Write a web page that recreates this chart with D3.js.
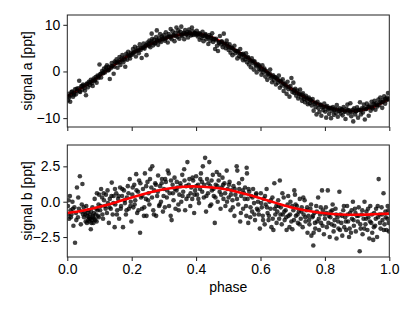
<!DOCTYPE html>
<html><head><meta charset="utf-8">
<script src="https://cdn.jsdelivr.net/npm/d3@7"></script>
<style>
body{margin:0;background:#fff;}
text{font-family:"Liberation Sans",Arial,sans-serif;}
</style></head>
<body><svg id="c" width="415" height="311"></svg>
<script>
// ---- data ----
const xTicks = [0, 0.2, 0.4, 0.6, 0.8, 1.0];
const yTicksA = [-10, 0, 10];
const yTicksB = [-2.5, 0, 2.5];
const labelA = "signal a [ppt]";
const labelB = "signal b [ppt]";
const labelX = "phase";

const modelPhase = [0,0.05,0.1,0.15,0.2,0.25,0.3,0.35,0.4,0.45,0.5,0.55,0.6,0.65,0.7,0.75,0.8,0.85,0.9,0.95,1.0];
const modelA = [-5.3,-3.3,-1.0,1.6,3.8,5.6,7.0,7.9,8.1,7.3,5.5,3.4,1.0,-1.6,-3.9,-6.0,-7.5,-8.3,-8.4,-7.6,-5.8];
const modelB = [-0.80,-0.62,-0.36,-0.05,0.30,0.62,0.88,1.04,1.08,1.00,0.84,0.56,0.24,-0.10,-0.42,-0.66,-0.82,-0.90,-0.92,-0.89,-0.84];

const pointsA = [
[0.002,-6.2],[0.004,-4.8],[0.006,-5.6],[0.009,-6.5],[0.012,-5.0],[0.015,-4.3],[0.018,-5.4],[0.021,-4.6],[0.024,-3.8],[0.027,-4.9],[0.030,-4.2],[0.034,-3.6],[0.037,-2.0],[0.040,-4.4],[0.043,-3.2],[0.046,-3.9],[0.049,-2.8],
[0.052,-3.0],[0.055,-4.1],[0.058,-5.1],[0.061,-2.6],[0.064,-3.4],[0.067,-2.2],[0.070,-2.9],[0.073,-1.8],[0.076,-2.5],[0.079,-3.1],[0.082,-1.5],[0.085,-2.0],[0.088,-1.2],[0.091,-2.4],[0.094,-0.9],[0.097,-1.4],
[0.100,1.5],[0.102,-0.6],[0.105,-1.3],[0.108,0.1],[0.111,-0.4],[0.114,0.6],[0.117,-0.2],[0.120,0.9],[0.123,1.3],[0.126,0.2],[0.129,1.0],[0.132,-1.6],[0.135,0.7],[0.138,1.8],[0.141,1.2],[0.144,-0.5],[0.147,2.1],
[0.150,1.9],[0.153,2.6],[0.156,0.8],[0.159,2.2],[0.162,3.1],[0.165,1.4],[0.168,2.7],[0.171,3.5],[0.174,2.0],[0.177,3.0],[0.180,1.0],[0.183,3.8],[0.186,2.5],[0.189,4.2],[0.192,3.3],[0.195,2.8],[0.198,4.0],
[0.201,3.6],[0.204,4.8],[0.207,4.1],[0.210,5.3],[0.213,3.2],[0.216,4.5],[0.219,5.0],[0.222,3.9],[0.225,5.8],[0.228,4.6],[0.231,2.9],[0.234,5.2],[0.237,6.0],[0.240,4.9],[0.243,5.5],[0.246,3.5],[0.249,6.2],
[0.252,5.9],[0.255,6.6],[0.258,5.2],[0.261,6.4],[0.262,8.1],[0.264,7.0],[0.267,5.6],[0.270,6.8],[0.273,6.1],[0.276,7.4],[0.278,8.8],[0.279,6.5],[0.282,5.7],[0.285,7.1],[0.288,8.0],[0.291,6.3],[0.294,7.5],[0.297,6.9],
[0.300,7.8],[0.303,6.6],[0.306,8.4],[0.309,7.2],[0.312,6.2],[0.315,8.0],[0.318,7.5],[0.321,9.1],[0.324,6.9],[0.327,8.6],[0.330,7.7],[0.333,6.5],[0.336,8.3],[0.339,9.4],[0.342,7.4],[0.345,8.8],[0.348,7.0],
[0.351,8.5],[0.354,9.6],[0.357,7.6],[0.360,8.1],[0.363,6.9],[0.366,8.9],[0.369,7.9],[0.372,8.4],[0.375,7.3],[0.378,9.0],[0.381,8.2],[0.384,7.7],[0.387,9.4],[0.390,8.6],[0.393,7.8],[0.396,8.3],[0.399,8.0],
[0.402,8.7],[0.405,7.5],[0.408,8.2],[0.411,6.8],[0.414,7.9],[0.417,7.2],[0.420,8.5],[0.423,6.5],[0.426,7.6],[0.429,8.0],[0.432,6.9],[0.435,7.4],[0.438,5.9],[0.441,7.8],[0.444,6.6],[0.447,7.1],[0.450,8.2],
[0.453,6.3],[0.456,7.0],[0.459,4.8],[0.462,6.7],[0.465,5.5],[0.468,4.4],[0.471,6.1],[0.474,7.6],[0.477,5.8],[0.480,6.4],[0.483,5.2],[0.486,8.1],[0.489,6.0],[0.492,5.0],[0.495,6.6],[0.498,5.4],
[0.501,4.6],[0.504,5.8],[0.507,4.0],[0.510,5.1],[0.513,3.5],[0.516,4.7],[0.519,5.5],[0.522,3.9],[0.525,4.4],[0.528,2.8],[0.531,4.1],[0.534,3.3],[0.537,4.8],[0.540,3.0],[0.543,3.7],[0.546,2.4],[0.549,3.4],
[0.552,2.6],[0.555,3.9],[0.558,2.0],[0.561,3.1],[0.564,1.5],[0.567,2.4],[0.570,0.9],[0.573,2.8],[0.576,1.8],[0.579,0.4],[0.582,2.1],[0.585,1.2],[0.588,-0.2],[0.591,1.6],[0.594,0.6],[0.597,1.0],
[0.600,0.2],[0.603,-0.7],[0.606,1.3],[0.609,-0.2],[0.612,0.6],[0.615,-1.1],[0.618,0.1],[0.621,-1.8],[0.624,-0.5],[0.627,-0.9],[0.630,0.4],[0.633,-1.4],[0.636,-2.3],[0.639,-0.8],[0.642,-1.9],[0.645,-1.2],[0.648,-2.8],
[0.651,-1.5],[0.654,-2.4],[0.657,-0.9],[0.660,-3.5],[0.663,-2.0],[0.666,-3.0],[0.669,-1.7],[0.672,-4.2],[0.675,-2.6],[0.678,-3.4],[0.681,-4.8],[0.684,-2.2],[0.687,-3.8],[0.690,-5.4],[0.693,-3.1],[0.696,-1.4],[0.699,-4.4],
[0.702,-2.4],[0.705,-4.6],[0.708,-3.7],[0.711,-5.2],[0.714,-4.1],[0.717,-5.8],[0.720,-4.9],[0.723,-3.9],[0.726,-5.5],[0.729,-6.3],[0.732,-4.7],[0.735,-5.9],[0.738,-6.6],[0.741,-5.2],[0.744,-6.1],[0.747,-7.0],
[0.750,-5.6],[0.753,-6.8],[0.756,-6.2],[0.759,-7.3],[0.762,-5.9],[0.765,-8.4],[0.768,-6.9],[0.771,-7.6],[0.774,-9.2],[0.777,-6.5],[0.780,-7.9],[0.783,-8.7],[0.786,-7.1],[0.789,-9.5],[0.792,-7.7],[0.795,-8.3],[0.798,-6.9],
[0.801,-8.6],[0.804,-9.9],[0.807,-7.4],[0.810,-8.2],[0.813,-9.1],[0.816,-7.8],[0.819,-10.0],[0.822,-8.5],[0.825,-7.6],[0.828,-9.3],[0.831,-8.0],[0.834,-8.9],[0.837,-7.2],[0.840,-9.7],[0.843,-8.4],[0.846,-7.9],[0.849,-9.0],
[0.852,-8.1],[0.855,-9.4],[0.858,-7.6],[0.861,-8.6],[0.864,-10.2],[0.867,-8.0],[0.870,-7.1],[0.873,-9.0],[0.876,-8.3],[0.879,-6.8],[0.882,-9.6],[0.885,-8.7],[0.888,-10.7],[0.891,-7.9],[0.894,-9.2],[0.897,-8.5],
[0.900,-7.7],[0.903,-9.9],[0.906,-8.3],[0.909,-6.6],[0.912,-9.2],[0.915,-7.9],[0.918,-8.8],[0.921,-7.1],[0.924,-10.3],[0.927,-8.1],[0.930,-6.9],[0.933,-7.6],[0.936,-9.5],[0.939,-7.3],[0.942,-8.4],[0.945,-6.5],[0.948,-7.9],
[0.951,-7.0],[0.954,-6.3],[0.957,-8.2],[0.960,-6.8],[0.963,-7.5],[0.966,-6.0],[0.969,-7.2],[0.972,-5.6],[0.975,-6.6],[0.978,-7.8],[0.981,-6.1],[0.984,-5.3],[0.987,-6.9],[0.990,-6.2],[0.993,-5.6],[0.996,-4.6],[0.999,-6.0],
[0.005,-5.3],[0.013,-4.4],[0.021,-5.0],[0.029,-3.7],[0.038,-4.3],[0.046,-3.1],[0.054,-3.5],[0.062,-2.7],[0.071,-2.3],[0.079,-2.0],[0.087,-1.8],[0.096,-1.1],[0.104,-0.5],[0.112,-0.2],[0.121,0.4],[0.129,0.3],[0.137,1.1],[0.146,1.0],[0.154,1.8],[0.162,2.0],[0.171,2.4],[0.179,2.6],[0.187,3.4],[0.196,3.5],[0.204,3.9],[0.212,4.3],[0.221,4.5],[0.229,5.0],[0.237,5.1],[0.246,5.6],
[0.254,5.5],[0.262,6.1],[0.271,6.0],[0.279,6.7],[0.287,6.6],[0.296,7.1],[0.304,7.0],[0.312,7.5],[0.321,7.3],[0.329,7.8],[0.337,7.6],[0.346,8.1],[0.354,7.8],[0.362,8.3],[0.371,8.0],[0.379,8.4],[0.387,7.9],[0.396,8.2],[0.404,7.9],[0.412,8.1],[0.421,7.6],[0.429,7.8],[0.437,7.3],[0.446,7.5],[0.454,6.9],[0.462,7.0],[0.471,6.3],[0.479,6.4],[0.487,5.8],[0.496,5.9],
[0.504,5.2],[0.512,5.0],[0.521,4.5],[0.529,4.4],[0.537,3.8],[0.546,3.8],[0.554,3.1],[0.562,2.9],[0.571,2.2],[0.579,2.2],[0.587,1.4],[0.596,1.3],[0.604,0.5],[0.612,0.3],[0.621,-0.3],[0.629,-0.5],[0.637,-1.1],[0.646,-1.3],[0.654,-1.8],[0.662,-2.2],[0.671,-2.6],[0.679,-3.0],[0.687,-3.3],[0.696,-3.8],[0.704,-4.0],[0.712,-4.5],[0.721,-4.8],[0.729,-5.0],[0.737,-5.5],[0.746,-5.8],
[0.754,-6.0],[0.762,-6.5],[0.771,-6.7],[0.779,-7.1],[0.787,-7.2],[0.796,-7.6],[0.804,-7.6],[0.812,-7.9],[0.821,-7.9],[0.829,-8.3],[0.837,-8.1],[0.846,-8.5],[0.854,-8.2],[0.862,-8.6],[0.871,-8.3],[0.879,-8.6],[0.887,-8.2],[0.896,-8.5],[0.904,-8.2],[0.912,-8.3],[0.921,-7.9],[0.929,-8.0],[0.937,-7.6],[0.946,-7.7],[0.954,-7.2],[0.962,-7.2],[0.971,-6.6],[0.979,-6.6],[0.987,-5.9],[0.996,-5.9]
];

const pointsB = [
[0.002,-0.3],[0.004,0.1],[0.006,-1.2],[0.008,0.4],[0.010,-0.6],[0.013,-0.9],[0.016,0.0],[0.019,-1.7],[0.022,-0.4],[0.024,-2.9],[0.027,-0.8],[0.030,1.0],[0.033,-1.1],[0.036,-0.5],[0.039,1.8],[0.042,-1.6],[0.045,-0.2],[0.047,1.25],[0.049,-0.9],
[0.052,-1.1],[0.054,-0.7],[0.057,-1.4],[0.059,-0.3],[0.062,-1.0],[0.064,-1.3],[0.066,-0.6],[0.069,-1.2],[0.071,-0.9],[0.073,-1.95],[0.075,-1.5],[0.078,-0.4],[0.080,-1.1],[0.083,-0.8],[0.085,0.2],[0.087,-1.3],[0.090,-0.5],[0.092,0.6],[0.095,-1.0],[0.097,-0.2],[0.099,0.5],
[0.102,-0.6],[0.105,0.9],[0.108,0.3],[0.111,-1.2],[0.114,0.1],[0.117,-0.3],[0.120,0.5],[0.123,-0.8],[0.126,-0.1],[0.129,-1.5],[0.132,0.2],[0.135,-0.5],[0.138,1.35],[0.141,-0.9],[0.144,0.4],[0.147,-1.8],[0.149,-0.2],
[0.152,0.6],[0.155,-0.6],[0.158,0.2],[0.161,-1.2],[0.164,1.0],[0.167,-0.3],[0.170,0.4],[0.173,-1.8],[0.176,0.8],[0.179,-0.1],[0.182,-0.9],[0.185,0.3],[0.188,1.1],[0.191,-0.5],[0.194,1.6],[0.197,0.0],[0.199,-1.4],
[0.202,0.5],[0.205,-0.4],[0.208,1.2],[0.211,0.1],[0.214,1.95],[0.217,-0.8],[0.220,0.7],[0.223,1.5],[0.226,-2.2],[0.229,0.3],[0.232,-0.5],[0.235,0.9],[0.238,-1.0],[0.241,2.0],[0.244,0.2],[0.246,-1.0],[0.249,1.4],
[0.252,0.6],[0.255,-0.2],[0.258,2.3],[0.261,1.0],[0.264,2.5],[0.267,-0.6],[0.270,0.8],[0.273,1.3],[0.276,-1.0],[0.279,0.4],[0.282,1.85],[0.285,-0.3],[0.288,1.1],[0.291,0.0],[0.294,1.6],[0.297,-0.7],
[0.300,0.9],[0.303,-0.4],[0.306,1.4],[0.309,0.3],[0.312,2.2],[0.315,2.0],[0.318,0.6],[0.321,-1.0],[0.324,-1.3],[0.327,1.2],[0.330,0.1],[0.333,1.7],[0.336,-0.5],[0.339,0.8],[0.342,1.0],[0.345,-0.2],[0.348,0.5],
[0.351,1.3],[0.354,0.0],[0.357,1.9],[0.360,0.7],[0.363,2.3],[0.366,-0.6],[0.369,1.1],[0.373,2.8],[0.376,0.4],[0.379,1.6],[0.382,-0.3],[0.385,1.0],[0.388,0.2],[0.391,1.5],[0.394,-0.8],[0.397,0.8],
[0.400,1.8],[0.403,0.5],[0.406,1.2],[0.409,-0.1],[0.412,0.9],[0.415,2.0],[0.418,1.4],[0.421,2.5],[0.424,0.3],[0.428,3.1],[0.431,-0.7],[0.434,1.6],[0.437,0.6],[0.441,2.8],[0.444,1.1],[0.447,-0.2],[0.449,0.8],
[0.452,1.9],[0.455,0.4],[0.458,-1.5],[0.461,1.2],[0.464,2.1],[0.467,0.0],[0.470,1.5],[0.473,0.7],[0.476,-0.5],[0.479,1.0],[0.482,1.7],[0.485,0.2],[0.488,1.3],[0.491,-0.3],[0.495,2.2],[0.498,0.9],
[0.501,0.3],[0.504,1.4],[0.507,-0.6],[0.510,0.8],[0.513,0.1],[0.516,1.1],[0.519,-1.0],[0.522,0.5],[0.526,2.5],[0.528,2.2],[0.531,-0.2],[0.534,0.9],[0.537,-1.4],[0.540,0.4],[0.543,1.6],[0.546,-0.5],[0.549,0.6],
[0.552,1.0],[0.555,-0.3],[0.557,2.4],[0.558,2.0],[0.560,0.2],[0.562,-1.5],[0.565,0.7],[0.568,-1.1],[0.571,0.4],[0.574,-0.7],[0.577,0.9],[0.580,-0.1],[0.583,-1.3],[0.586,0.5],[0.589,-0.5],[0.592,0.0],[0.595,-0.9],[0.598,-1.9],
[0.601,0.6],[0.604,-0.4],[0.607,-1.0],[0.610,0.2],[0.613,-1.6],[0.616,-0.2],[0.619,0.9],[0.622,-0.8],[0.625,-1.3],[0.628,0.0],[0.631,-0.5],[0.634,-1.8],[0.637,0.3],[0.640,-2.0],[0.643,1.3],[0.646,-0.9],[0.649,-0.3],
[0.652,-0.7],[0.655,0.1],[0.658,-1.2],[0.660,1.5],[0.663,-0.4],[0.666,-1.6],[0.669,-0.9],[0.672,0.3],[0.675,-1.3],[0.678,-0.6],[0.681,-2.0],[0.684,-0.2],[0.687,-1.0],[0.690,-1.8],[0.693,0.0],[0.696,-1.4],[0.699,-1.95],
[0.702,-0.6],[0.705,0.8],[0.707,0.5],[0.710,-1.0],[0.713,-0.3],[0.716,-1.5],[0.719,-0.7],[0.722,0.2],[0.725,-1.2],[0.728,-0.4],[0.731,-1.8],[0.734,-0.9],[0.737,0.1],[0.740,-1.4],[0.743,-0.6],[0.746,-2.2],[0.749,-1.0],
[0.752,-1.6],[0.755,-0.5],[0.758,-2.4],[0.761,-1.1],[0.764,-3.1],[0.765,-2.2],[0.767,-0.8],[0.770,-1.9],[0.773,-0.3],[0.776,-1.4],[0.779,0.3],[0.782,-2.0],[0.785,-0.9],[0.788,-1.5],[0.791,0.8],[0.794,-0.6],[0.797,-2.3],
[0.800,-1.2],[0.803,-0.4],[0.806,-1.8],[0.809,0.8],[0.812,-1.0],[0.815,-2.5],[0.818,-0.7],[0.821,-1.6],[0.824,-0.2],[0.827,-2.1],[0.830,-1.3],[0.833,-0.5],[0.836,-2.6],[0.839,-1.1],[0.842,-1.9],[0.845,0.7],[0.848,-0.9],
[0.851,-1.5],[0.854,-2.4],[0.857,-0.6],[0.860,-1.8],[0.863,-1.1],[0.866,-2.0],[0.869,-0.3],[0.872,-1.4],[0.875,-2.5],[0.878,-0.8],[0.881,-2.2],[0.884,-1.2],[0.887,0.0],[0.890,-1.7],[0.893,-0.5],[0.896,-2.1],[0.899,-1.0],
[0.902,-1.4],[0.905,-0.4],[0.908,-3.5],[0.911,-1.9],[0.914,-0.9],[0.917,-2.3],[0.920,-1.2],[0.923,0.0],[0.926,-1.6],[0.929,-0.7],[0.932,-2.0],[0.935,-1.1],[0.938,-2.6],[0.941,-0.3],[0.944,-1.5],[0.947,-2.2],[0.950,-2.7],
[0.953,-0.8],[0.956,-1.7],[0.959,-0.5],[0.962,-2.5],[0.965,-1.1],[0.967,1.6],[0.970,-0.9],[0.973,-1.9],[0.976,-0.4],[0.979,-1.3],[0.982,0.6],[0.985,-1.6],[0.988,-0.7],[0.991,-2.0],[0.994,-1.2],[0.997,-0.6],[0.999,-2.1],
[0.003,-0.9],[0.011,-1.1],[0.017,-0.5],[0.028,-1.3],[0.034,0.3],[0.043,-0.7],[0.051,-0.4],[0.056,-0.9],[0.061,-1.5],[0.063,-0.8],[0.067,-1.1],[0.068,-1.4],[0.072,-1.2],[0.074,-0.7],[0.077,-1.3],[0.079,-1.0],[0.081,-1.5],[0.084,-1.2],[0.088,-0.9],[0.091,-1.4],[0.094,-0.6],[0.098,-1.1],
[0.104,-0.3],[0.109,-0.9],[0.113,0.6],[0.119,-0.5],[0.125,0.8],[0.131,-0.4],[0.137,0.4],[0.143,-0.1],[0.148,0.9],[0.154,-0.9],[0.159,0.4],[0.166,-0.5],[0.171,0.9],[0.178,0.1],[0.184,-0.6],[0.190,0.6],[0.196,-0.3],
[0.203,1.0],[0.209,-0.2],[0.215,0.8],[0.221,-0.6],[0.227,1.3],[0.233,0.4],[0.239,-0.4],[0.245,1.1],[0.251,0.1],[0.257,1.6],[0.263,0.3],[0.269,-0.9],[0.275,1.2],[0.281,0.7],[0.287,-0.2],[0.293,1.3],[0.299,0.4],
[0.304,1.6],[0.310,0.8],[0.316,-0.3],[0.322,1.5],[0.328,0.6],[0.334,0.9],[0.340,1.4],[0.346,-0.6],[0.352,1.1],[0.358,0.4],[0.364,1.5],[0.370,0.2],[0.377,1.2],[0.383,0.6],[0.389,1.7],[0.395,0.5],
[0.401,1.1],[0.407,0.2],[0.413,1.6],[0.419,0.7],[0.425,1.2],[0.432,0.4],[0.438,1.3],[0.443,-0.3],[0.448,1.5],[0.454,0.9],[0.460,0.3],[0.466,1.1],[0.472,1.9],[0.478,0.5],[0.484,1.2],[0.490,0.6],[0.496,0.0],
[0.502,1.2],[0.508,0.5],[0.514,-0.4],[0.520,0.9],[0.527,0.2],[0.533,1.3],[0.539,-0.8],[0.545,0.8],[0.551,0.2],[0.556,-1.0],[0.563,0.9],[0.569,-0.4],[0.575,0.3],[0.581,-0.9],[0.587,0.6],[0.593,-0.6],
[0.602,-0.1],[0.608,-1.3],[0.614,0.4],[0.620,-0.4],[0.626,-1.0],[0.632,0.1],[0.638,-1.2],[0.644,-0.5],[0.650,-1.5],[0.656,-0.3],[0.662,-0.9],[0.668,0.6],[0.674,-0.7],[0.680,-1.1],[0.686,0.4],[0.692,-0.9],[0.698,-0.3],
[0.704,-1.3],[0.709,-0.2],[0.715,-0.9],[0.721,-1.6],[0.727,-0.7],[0.733,0.3],[0.739,-1.1],[0.745,-0.4],[0.751,-1.3],[0.757,-0.2],[0.763,-1.0],[0.769,-1.5],[0.775,-0.7],[0.781,-1.2],[0.787,-0.4],[0.793,-1.7],[0.799,-0.9],
[0.805,-0.8],[0.811,-1.5],[0.817,-1.1],[0.823,-0.6],[0.829,-1.7],[0.835,-0.9],[0.841,-1.4],[0.847,-2.0],[0.853,-1.0],[0.859,-0.3],[0.865,-1.4],[0.871,-0.9],[0.877,-1.9],[0.883,-0.6],[0.889,-1.3],[0.895,-0.8],
[0.904,-1.0],[0.910,-1.6],[0.916,-0.6],[0.922,-1.9],[0.928,-1.2],[0.934,-0.5],[0.940,-1.4],[0.946,-0.9],[0.952,-1.8],[0.958,-1.2],[0.964,-0.3],[0.971,-1.5],[0.977,-0.9],[0.983,-2.0],[0.989,-1.1],[0.995,-0.3],[0.998,-1.5]
];

// ---- drawing ----
const svg = d3.select("#c");
svg.append("rect").attr("width",415).attr("height",311).attr("fill","#fff");

const L = 67.3, R = 389.3;
const x = d3.scaleLinear().domain([0,1]).range([L,R]);
const panels = [
  {top:15, bottom:127, domain:[-11.9,12.1], ticks:yTicksA, fmt:d=>d3.format("d")(d), pts:pointsA, model:modelA, label:labelA, lineFirst:true, xlabels:false},
  {top:145, bottom:257, domain:[-3.91,4.01], ticks:yTicksB, fmt:d=>d3.format(".1f")(d), pts:pointsB, model:modelB, label:labelB, lineFirst:false, xlabels:true}
];
const minus = s => s.replace("-", "\u2212");

panels.forEach((p,i) => {
  const y = d3.scaleLinear().domain(p.domain).range([p.bottom,p.top]);
  const g = svg.append("g");
  const clipId = "clip"+i;
  svg.append("clipPath").attr("id",clipId).append("rect")
     .attr("x",L).attr("y",p.top).attr("width",R-L).attr("height",p.bottom-p.top);
  const plot = g.append("g").attr("clip-path",`url(#${clipId})`);
  const line = d3.line().x((d,j)=>x(modelPhase[j])).y(d=>y(d)).curve(d3.curveCatmullRom);
  const drawLine = () => plot.append("path").datum(p.model).attr("d",line)
      .attr("fill","none").attr("stroke","#ff0000").attr("stroke-width",2.6);
  const drawPts = () => plot.append("g").selectAll("circle").data(p.pts).join("circle")
      .attr("cx",d=>x(d[0])).attr("cy",d=>y(d[1])).attr("r",2.3)
      .attr("fill","#000").attr("fill-opacity",0.75);
  if (p.lineFirst) { drawLine(); drawPts(); } else { drawPts(); drawLine(); }

  const ya = g.append("g").attr("transform",`translate(${L},0)`)
     .call(d3.axisLeft(y).tickValues(p.ticks).tickSize(4).tickPadding(3).tickFormat(d=>minus(p.fmt(d))));
  ya.select(".domain").remove();
  ya.selectAll("line").attr("stroke","#000").attr("stroke-width",0.9);
  ya.selectAll("text").attr("font-size",14).attr("fill","#000").style("font-family","'Liberation Sans',Arial,sans-serif");
  const xa = g.append("g").attr("transform",`translate(0,${p.bottom})`)
     .call(d3.axisBottom(x).tickValues(xTicks).tickSize(4).tickPadding(3).tickFormat(d=>p.xlabels? d3.format(".1f")(d):""));
  xa.select(".domain").remove();
  xa.selectAll("line").attr("stroke","#000").attr("stroke-width",0.9);
  xa.selectAll("text").attr("font-size",14).attr("fill","#000").style("font-family","'Liberation Sans',Arial,sans-serif");
  g.append("rect").attr("x",L).attr("y",p.top).attr("width",R-L).attr("height",p.bottom-p.top)
   .attr("fill","none").attr("stroke","#222").attr("stroke-width",1);
  g.append("text").attr("transform",`translate(27,${(p.top+p.bottom)/2}) rotate(-90)`)
   .attr("text-anchor","middle").attr("dominant-baseline","central")
   .attr("font-size",14).attr("fill","#000").text(p.label);
});

svg.append("text").attr("x",(L+R)/2).attr("y",287).attr("text-anchor","middle")
   .attr("dominant-baseline","central").attr("font-size",14).attr("fill","#000").text(labelX);
</script></body></html>
